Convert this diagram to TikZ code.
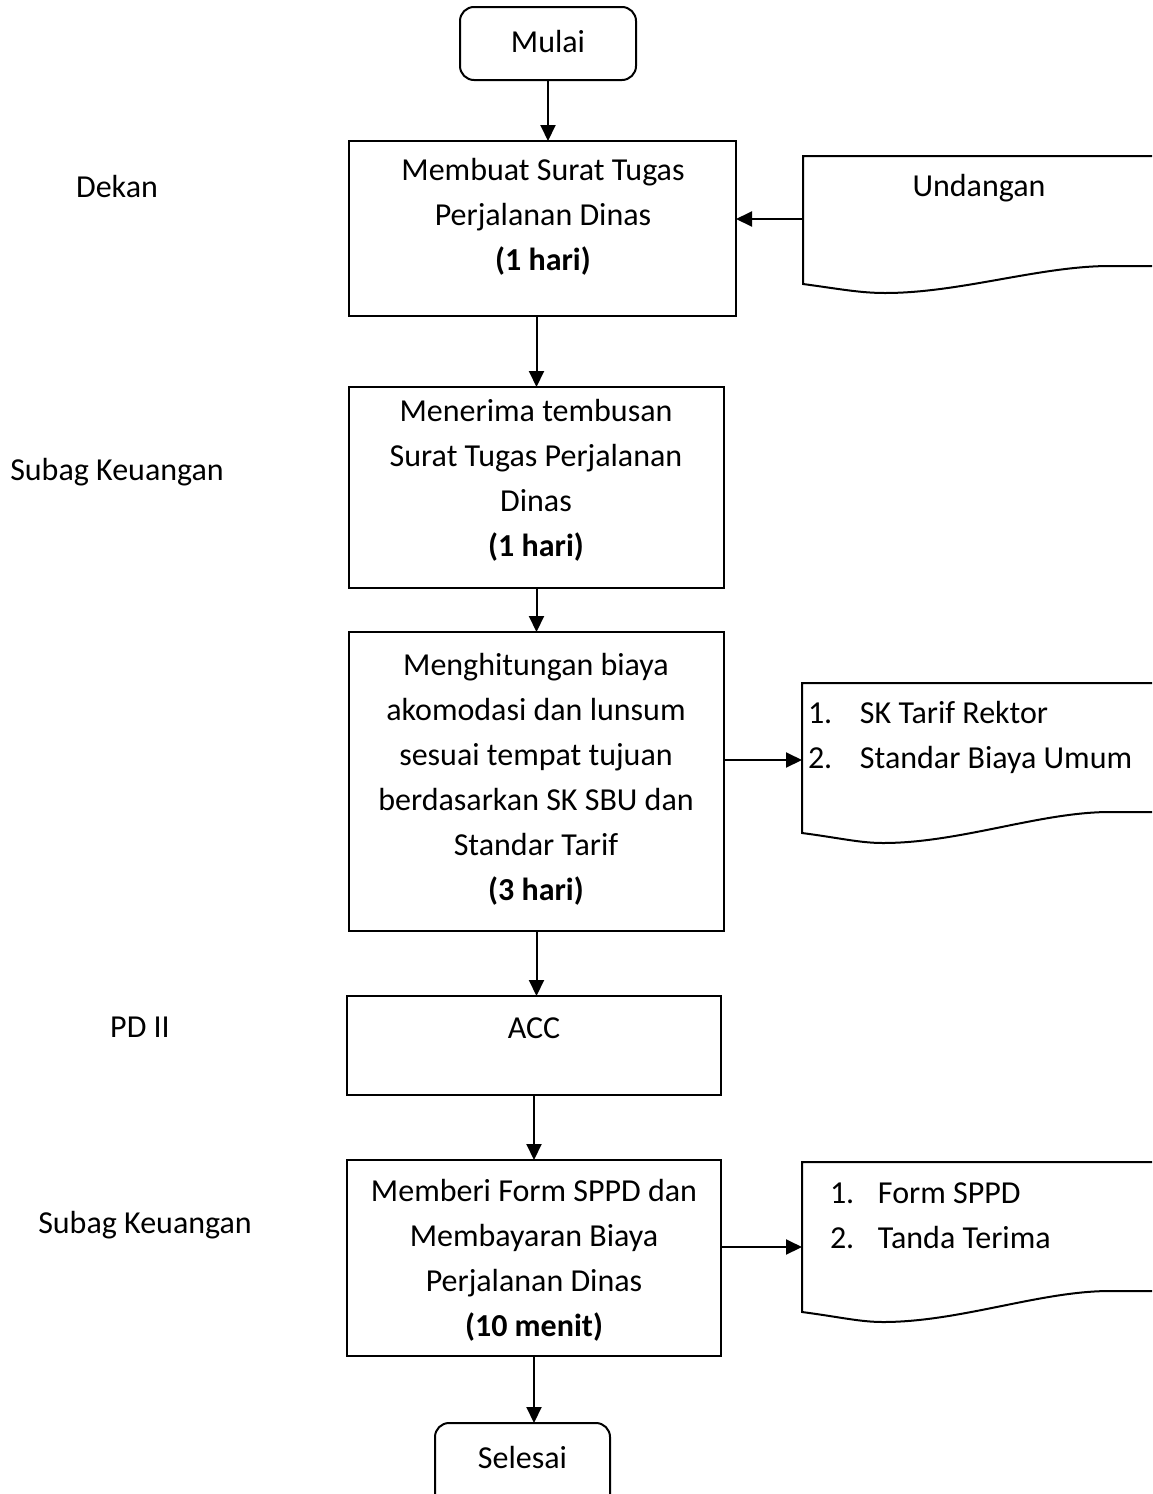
\documentclass[tikz,border=0pt]{standalone}
\usepackage{fontspec}
\setmainfont{Carlito}
\usetikzlibrary{arrows.meta}
\begin{document}
\begin{tikzpicture}[x=1pt,y=-1pt,
  line width=2pt,
  every node/.style={font=\fontsize{32}{45}\selectfont, inner sep=0pt, outer sep=0pt},
  proc/.style={draw, rectangle},
  term/.style={draw, rectangle, rounded corners=14pt},
  txt/.style={align=center},
  arr/.style={-{Triangle[length=16pt,width=15pt]}},
]
\useasboundingbox (0,0) rectangle (1152,1494);

% terminals
\node[term, minimum width=176pt, minimum height=73pt] (m) at (548,43.5) {};
\node[txt] (mt) at (548,42) {Mulai};
\node[term, minimum width=175pt, minimum height=100pt] (sel) at (522.5,1473) {};
\node[txt] (selt) at (522.5,1457) {Selesai};

% process boxes
\node[proc, minimum width=387pt, minimum height=175pt] (b1) at (542.5,228.5) {};
\node[txt] (b1t) at (543,217) {Membuat Surat Tugas\\Perjalanan Dinas\\\textbf{(1 hari)}};

\node[proc, minimum width=375pt, minimum height=201pt] (b2) at (536.5,487.5) {};
\node[txt] (b2t) at (536,480.5) {Menerima tembusan\\Surat Tugas Perjalanan\\Dinas\\\textbf{(1 hari)}};

\node[proc, minimum width=375pt, minimum height=299pt] (b3) at (536.5,781.5) {};
\node[txt] (b3t) at (536,779) {Menghitungan biaya\\akomodasi dan lunsum\\sesuai tempat tujuan\\berdasarkan SK SBU dan\\Standar Tarif\\\textbf{(3 hari)}};

\node[proc, minimum width=374pt, minimum height=99pt] (acc) at (534,1045.5) {};
\node[txt] (acct) at (534,1028) {ACC};

\node[proc, minimum width=374pt, minimum height=196pt] (b5) at (534,1258) {};
\node[txt] (b5t) at (534,1260) {Memberi Form SPPD dan\\Membayaran Biaya\\Perjalanan Dinas\\\textbf{(10 menit)}};

% documents
\draw (1152,156) -- (803,156) -- (803,284) .. controls (840,289) and (860,293) .. (885,293)
  .. controls (960,293) and (1040,266) .. (1110,266) -- (1152,266);
\coordinate (d1) at (803,219);
\node[txt] (d1t) at (979,188) {Undangan};

\draw (1152,683) -- (802,683) -- (802,833) .. controls (840,838) and (860,843) .. (883,843)
  .. controls (960,843) and (1040,812) .. (1110,812) -- (1152,812);
\coordinate (d2) at (802,760);
\node[anchor=west, align=left] (d2t) at (808,737.5) {\makebox[52pt][l]{1.}SK Tarif Rektor\\\makebox[52pt][l]{2.}Standar Biaya Umum};

\draw (1152,1162) -- (802,1162) -- (802,1312) .. controls (840,1317) and (860,1322) .. (883,1322)
  .. controls (960,1322) and (1040,1291) .. (1110,1291) -- (1152,1291);
\coordinate (d3) at (802,1247);
\node[anchor=west, align=left] (d3t) at (830,1216) {\makebox[48pt][l]{1.}Form SPPD\\\makebox[48pt][l]{2.}Tanda Terima};

% left labels
\node (l1) at (117,187) {Dekan};
\node (l2) at (117,472) {Subag Keuangan};
\node (l3) at (140,1027) {PD II};
\node (l4) at (145,1225) {Subag Keuangan};

% connectors
\draw[arr] (m.south) -- (m.south |- b1.north);
\draw[arr] (d1) -- (d1 -| b1.east);
\draw[arr] (b1.south -| b2.north) -- (b2.north);
\draw[arr] (b2.south) -- (b3.north);
\draw[arr] (b3.east |- d2) -- (d2);
\draw[arr] (b3.south) -- (b3.south |- acc.north);
\draw[arr] (acc.south) -- (acc.south |- b5.north);
\draw[arr] (b5.east |- d3) -- (d3);
\draw[arr] (b5.south) -- (b5.south |- sel.north);
\end{tikzpicture}
\end{document}
